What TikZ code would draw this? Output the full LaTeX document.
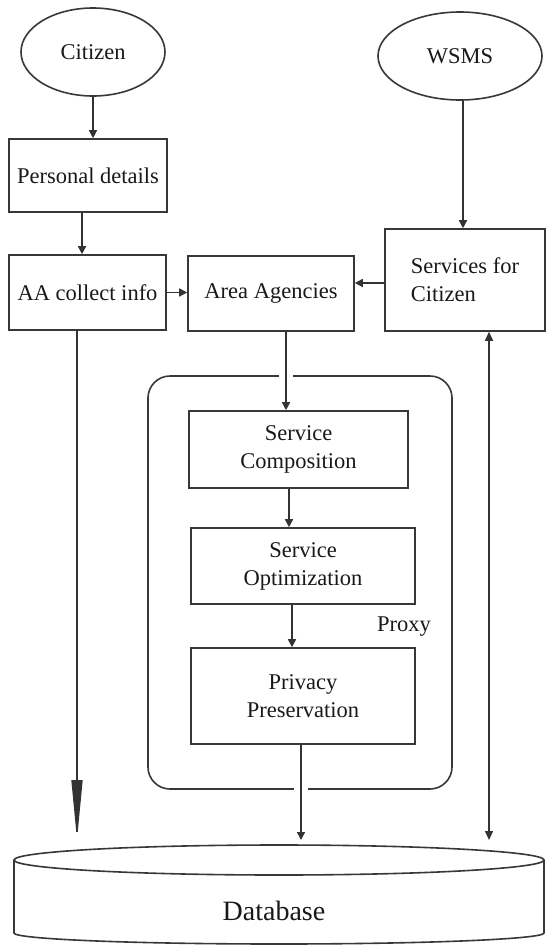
\documentclass[tikz,border=0pt]{standalone}
\usepackage{fontspec}
\setmainfont{Liberation Serif}
\usetikzlibrary{arrows.meta,shapes.geometric}
\begin{document}
\begin{tikzpicture}[x=1pt,y=-1pt,
  ln/.style={draw=black!78, line width=1.6pt},
  txt/.style={font=\fontsize{22.5}{28}\selectfont, text=black!90},
  box/.style={ln, txt, rectangle, inner sep=2pt, align=center},
  oval/.style={ln, txt, ellipse, inner sep=0pt},
  arr/.style={draw=black!80, line width=1.5pt, -{Triangle[length=8pt,width=8pt]}},
  gap/.style={preaction={draw=white, line width=14pt, shorten <=10pt, shorten >=10pt, -}},
]
\useasboundingbox (0,0) rectangle (546,945);
\fill[white] (0,0) rectangle (546,945);

% top ovals
\node[oval, minimum width=144pt, minimum height=88pt] (cit) at (93,52) {Citizen};
\node[oval, minimum width=164pt, minimum height=88pt] (wsms) at (460,56) {WSMS};

% boxes
\node[box, minimum width=158pt, minimum height=73pt] (pd) at (88,175.5) {Personal details};
\node[box, minimum width=157pt, minimum height=75pt] (aa) at (87.5,292.5) {AA collect info};
\node[box, minimum width=166pt, minimum height=75pt] (area) at (271,293.5) {Area Agencies};
\node[box, align=left, minimum width=160pt, minimum height=102pt] (serv) at (465,280) {Services for\\Citizen};

% proxy container
\node[ln, rectangle, rounded corners=22pt, minimum width=304pt, minimum height=413pt] (proxy) at (300,582.5) {};
\node[txt] (proxylbl) at (404,627) {Proxy};

\node[box, minimum width=219pt, minimum height=77pt] (comp) at (298.5,449.5) {Service\\Composition};
\node[box, minimum width=224pt, minimum height=76pt] (opt) at (303,566) {Service\\Optimization};
\node[box, minimum width=224pt, minimum height=96pt] (priv) at (303,696) {Privacy\\Preservation};

% database cylinder
\node[minimum width=530pt, minimum height=85pt, inner sep=0pt] (db) at (279,900) {};
\draw[ln] (279,860) ellipse [x radius=265pt, y radius=15pt];
\draw[ln] (14,860) -- (14,933) arc[start angle=180, end angle=360, x radius=265pt, y radius=11pt] -- (544,860);
\node[font=\fontsize{28}{32}\selectfont, text=black!90] (dblbl) at (274,911) {Database};
\coordinate (dbtop) at (279,840);

% connectors
\draw[arr] (cit.south) -- (cit.south |- pd.north);
\coordinate (pds) at ([xshift=-6pt]pd.south);
\draw[arr] (pds) -- (pds |- aa.north);
\draw[arr] (aa.east) -- (aa.east -| area.west);
\draw[arr] ([yshift=-3pt]serv.west) -- ([yshift=-3pt]serv.west -| area.east);
\coordinate (ws) at ([xshift=3pt]wsms.south);
\draw[arr] (ws) -- (ws |- serv.north);

\coordinate (as) at ([xshift=15pt]area.south);
\draw[arr, gap] (as) -- (as |- comp.north);
\coordinate (cs) at ([xshift=-9.5pt]comp.south);
\draw[arr] (cs) -- (cs |- opt.north);
\coordinate (os) at ([xshift=-11pt]opt.south);
\draw[arr] (os) -- (os |- priv.north);
\coordinate (ps) at ([xshift=-2pt]priv.south);
\draw[arr, gap] (ps) -- (ps |- dbtop);

\coordinate (aas) at ([xshift=-10.5pt]aa.south);
\draw[draw=black!80, line width=1.5pt, -{Triangle[length=60pt,width=11pt]}] (aas) -- (aas |- dbtop);

\coordinate (ss) at ([xshift=24pt]serv.south);
\draw[draw=black!80, line width=1.5pt, {Triangle[length=9pt,width=8pt]}-{Triangle[length=9pt,width=8pt]}] (ss) -- (ss |- dbtop);
\end{tikzpicture}
\end{document}
